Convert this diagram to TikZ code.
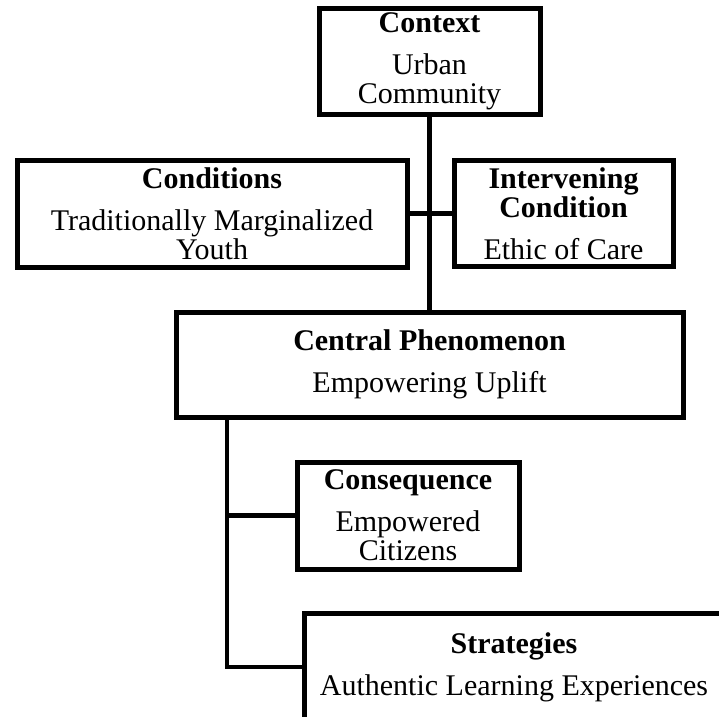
\documentclass[tikz,border=0pt]{standalone}
\usepackage{fontspec}
\setmainfont{Liberation Serif}
\begin{document}
\begin{tikzpicture}[x=1pt,y=-1pt,
  box/.style={draw,line width=5pt,rectangle,inner sep=0pt,align=center,
    font=\fontsize{30}{29}\selectfont},
  link/.style={line width=4.5pt}]
\useasboundingbox (0,0) rectangle (719,716);
\clip (0,0) rectangle (719,716);

% boxes (centre, size of the border line)
\node[box,minimum width=221pt,minimum height=106pt] (ctx) at (429.5,61)
  {\textbf{Context}\\[13pt]Urban\\Community};
\node[box,minimum width=390pt,minimum height=107pt] (cond) at (212,213.5)
  {\textbf{Conditions}\\[13pt]Traditionally Marginalized\\Youth};
\node[box,minimum width=219pt,minimum height=106pt] (interv) at (563.5,213.5)
  {\textbf{Intervening}\\\textbf{Condition}\\[13pt]Ethic of Care};
\node[box,minimum width=507pt,minimum height=105pt] (central) at (429.5,364.5)
  {\textbf{Central Phenomenon}\\[13pt]Empowering Uplift};
\node[box,minimum width=222pt,minimum height=107pt] (conseq) at (408,515.5)
  {\textbf{Consequence}\\[13pt]Empowered\\Citizens};
\node[box,minimum width=420pt,minimum height=108pt] (strat) at (514,667)
  {\textbf{Strategies}\\[13pt]Authentic Learning Experiences};

% connectors
\coordinate (trunktop) at (227,417);
\draw[link] (ctx.south) -- (central.north);
\draw[link] (cond.east) -- (interv.west);
\draw[link] (trunktop) |- (strat.west);
\draw[link] (trunktop |- conseq.west) -- (conseq.west);
\end{tikzpicture}
\end{document}
